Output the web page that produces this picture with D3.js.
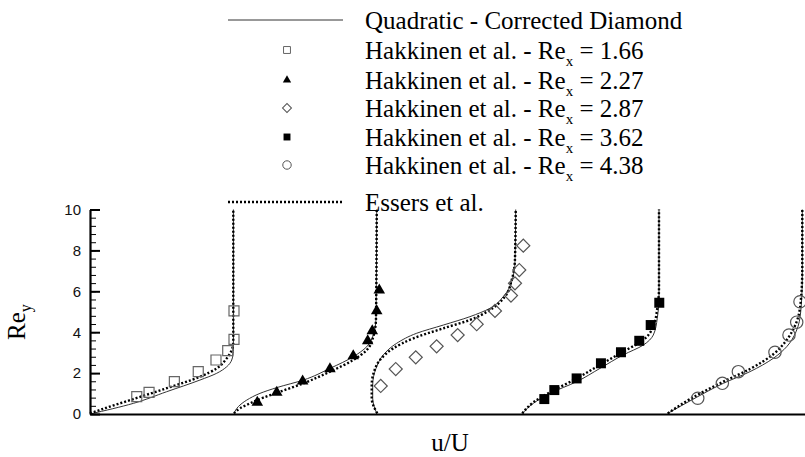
<!DOCTYPE html>
<html lang="en">
<head>
<meta charset="utf-8" />
<title>Velocity profiles</title>
<script src="https://cdn.jsdelivr.net/npm/d3@7"></script>
<style>
  body { margin: 0; background: #fff; }
</style>
</head>
<body>
<svg id="chart" width="805" height="457"></svg>
<script>
// Re_x of each station, and the u/U offset used to stack the profiles
const stations = ["1.66", "2.27", "2.87", "3.62", "4.38"];
const offsets = [0, 1, 2, 3, 4];
const yTicks = [0, 2, 4, 6, 8, 10];

// Quadratic - Corrected Diamond (solid), [u/U, Re_y]
const quad166 = [[0, 0], [0.303, 0.52], [0.536, 1.09], [0.769, 1.66], [0.886, 1.99], [0.956, 2.31], [0.991, 2.64], [1.002, 3.05], [1.003, 3.6], [1.003, 10]];
const quad227 = [[0.007, 0.03], [0.037, 0.36], [0.096, 0.68], [0.189, 1.01], [0.306, 1.29], [0.492, 1.66], [0.678, 2.23], [0.841, 2.8], [0.935, 3.29], [0.981, 3.86], [1.0, 4.68], [1.005, 10]];
const quad287 = [[0.005, 0.03], [-0.023, 0.77], [-0.023, 1.42], [0, 2.23], [0.051, 2.89], [0.145, 3.46], [0.285, 3.95], [0.471, 4.35], [0.657, 4.76], [0.797, 5.17], [0.89, 5.74], [0.949, 6.47], [0.972, 7.45], [0.977, 10]];
const quad362 = [[0.023, 0.03], [0.1, 0.52], [0.217, 1.01], [0.403, 1.58], [0.566, 2.23], [0.729, 2.89], [0.869, 3.37], [0.939, 3.86], [0.967, 4.68], [0.979, 5.82], [0.979, 10]];
const quad438 = [[0.04, 0.03], [0.196, 0.64], [0.429, 1.5], [0.615, 2.07], [0.778, 2.72], [0.872, 3.29], [0.937, 4.02], [0.97, 5.0], [0.981, 6.64], [0.981, 10]];

// Essers et al. (dotted)
const ess166 = [[0, 0.03], [0.07, 0.2], [0.303, 0.73], [0.536, 1.26], [0.769, 1.82], [0.886, 2.23], [0.956, 2.72], [0.991, 3.13], [1.002, 3.54], [1.002, 10]];
const ess227 = [[0.007, 0.03], [0.049, 0.28], [0.119, 0.52], [0.212, 0.8], [0.329, 1.09], [0.492, 1.5], [0.678, 2.07], [0.841, 2.64], [0.935, 3.13], [0.981, 3.78], [1.0, 4.68], [1.005, 10]];
const ess287 = [[0.009, 0.03], [-0.03, 0.77], [-0.03, 1.42], [-0.014, 2.07], [0.028, 2.64], [0.121, 3.21], [0.261, 3.7], [0.471, 4.19], [0.657, 4.6], [0.797, 5.09], [0.902, 5.74], [0.949, 6.55], [0.972, 7.61], [0.977, 10]];
const ess362 = [[0.023, 0.03], [0.1, 0.57], [0.217, 1.06], [0.403, 1.74], [0.566, 2.4], [0.729, 3.05], [0.869, 3.62], [0.939, 4.27], [0.967, 5.17], [0.979, 6.15], [0.979, 10]];
const ess438 = [[0.04, 0.03], [0.196, 0.73], [0.429, 1.58], [0.615, 2.2], [0.778, 2.92], [0.872, 3.62], [0.937, 4.43], [0.97, 5.49], [0.981, 7.12], [0.981, 10]];

// Hakkinen et al. measurements
const hak166 = [[0.327, 0.85], [0.413, 1.06], [0.59, 1.58], [0.757, 2.07], [0.881, 2.64], [0.963, 3.1], [1.007, 3.65], [1.007, 5.04]];
const hak227 = [[0.17, 0.57], [0.306, 1.06], [0.487, 1.61], [0.678, 2.2], [0.841, 2.84], [0.942, 3.57], [0.974, 4.06], [1.005, 5.04], [1.023, 6.06]];
const hak287 = [[0.033, 1.37], [0.138, 2.2], [0.278, 2.77], [0.424, 3.31], [0.571, 3.86], [0.704, 4.39], [0.832, 5.04], [0.944, 5.79], [0.972, 6.39], [1.002, 7.04], [1.03, 8.23]];
const hak362 = [[0.177, 0.73], [0.247, 1.17], [0.403, 1.74], [0.573, 2.48], [0.713, 3.02], [0.841, 3.58], [0.921, 4.35], [0.981, 5.44]];
const hak438 = [[0.25, 0.77], [0.422, 1.5], [0.534, 2.07], [0.79, 3.02], [0.888, 3.86], [0.942, 4.49], [0.965, 5.49]];

const quadCurves = [quad166, quad227, quad287, quad362, quad438];
const essCurves = [ess166, ess227, ess287, ess362, ess438];
const hakPoints = [hak166, hak227, hak287, hak362, hak438];

// marker style per station
const markers = [
  { type: d3.symbolSquare, size: 100, rot: 0, fill: "none", stroke: "#666", lsize: 48 },
  { type: d3.symbolTriangle, size: 58, rot: 0, fill: "#000", stroke: "none", lsize: 30 },
  { type: d3.symbolSquare, size: 85, rot: 45, fill: "none", stroke: "#555", lsize: 40 },
  { type: d3.symbolSquare, size: 100, rot: 0, fill: "#000", stroke: "none", lsize: 48 },
  { type: d3.symbolCircle, size: 120, rot: 0, fill: "none", stroke: "#555", lsize: 56 }
];

const svg = d3.select("#chart");
const serif = "'Liberation Serif', 'Times New Roman', serif";
const sans = "'Liberation Sans', Arial, sans-serif";

const x = d3.scaleLinear().domain([0, 5]).range([90, 805]);
const y = d3.scaleLinear().domain([0, 10]).range([414, 209.5]);

// curves
offsets.forEach((off, i) => {
  const line = d3.line()
    .x(d => x(off + d[0]))
    .y(d => y(d[1]))
    .curve(d3.curveMonotoneY);

  svg.append("path")
    .attr("d", line(quadCurves[i]))
    .attr("fill", "none")
    .attr("stroke", "#333")
    .attr("stroke-width", 1);

  svg.append("path")
    .attr("d", line(essCurves[i]))
    .attr("fill", "none")
    .attr("stroke", "#000")
    .attr("stroke-width", 2.4)
    .attr("stroke-dasharray", "2,2");

  const m = markers[i];
  svg.append("g").selectAll("path")
    .data(hakPoints[i])
    .enter()
    .append("path")
    .attr("d", d3.symbol().type(m.type).size(m.size))
    .attr("transform", d => `translate(${x(off + d[0])},${y(d[1])}) rotate(${m.rot})`)
    .attr("fill", m.fill)
    .attr("stroke", m.stroke)
    .attr("stroke-width", 1.2);
});

// Y axis, ticks point inward
const yAxis = svg.append("g")
  .attr("transform", `translate(${x(0)},0)`)
  .call(d3.axisLeft(y).tickValues(yTicks).tickSize(-10).tickSizeOuter(0).tickPadding(9));
yAxis.select(".domain").attr("stroke-width", 2.2);
yAxis.selectAll(".tick line").attr("stroke-width", 2);
yAxis.selectAll("text")
  .attr("font-family", sans)
  .attr("font-size", "15px")
  .attr("fill", "#111");

// minor ticks
svg.append("g")
  .attr("transform", `translate(${x(0)},0)`)
  .call(d3.axisLeft(y).tickValues(d3.range(0, 10.01, 0.4)).tickSize(-6).tickFormat(""))
  .call(g => g.select(".domain").remove())
  .selectAll(".tick line").attr("stroke-width", 1);

// X axis, line only
svg.append("g")
  .attr("transform", `translate(0,${y(0)})`)
  .call(d3.axisBottom(x).tickValues([]).tickSizeOuter(0))
  .select(".domain").attr("stroke-width", 2.2);

// axis titles
svg.append("text")
  .attr("x", 450)
  .attr("y", 451)
  .attr("text-anchor", "middle")
  .attr("font-family", serif)
  .attr("font-size", "25px")
  .text("u/U");

const ylab = svg.append("text")
  .attr("transform", "translate(25,340) rotate(-90)")
  .attr("font-family", serif)
  .attr("font-size", "25px");
ylab.append("tspan").text("Re");
ylab.append("tspan").attr("font-size", "16px").attr("dy", 6).text("y");

// legend
const rowY = [20, 50, 80, 108, 137, 165, 202];
const lg = svg.append("g");

lg.append("line")
  .attr("x1", 228).attr("x2", 343)
  .attr("y1", rowY[0]).attr("y2", rowY[0])
  .attr("stroke", "#333").attr("stroke-width", 1);
lg.append("text")
  .attr("x", 365).attr("y", rowY[0] + 8.7)
  .attr("font-family", serif).attr("font-size", "25px")
  .text("Quadratic - Corrected Diamond");

stations.forEach((s, i) => {
  const m = markers[i];
  const ry = rowY[i + 1];
  lg.append("path")
    .attr("d", d3.symbol().type(m.type).size(m.lsize))
    .attr("transform", `translate(287,${ry}) rotate(${m.rot})`)
    .attr("fill", m.fill)
    .attr("stroke", m.stroke)
    .attr("stroke-width", 1);
  const t = lg.append("text")
    .attr("x", 365).attr("y", ry + 8.7)
    .attr("font-family", serif).attr("font-size", "25px");
  t.append("tspan").text("Hakkinen et al. - Re");
  t.append("tspan").attr("font-size", "15px").attr("dy", 7).text("x");
  t.append("tspan").attr("dy", -7).text(" = " + s);
});

lg.append("line")
  .attr("x1", 228).attr("x2", 343)
  .attr("y1", rowY[6]).attr("y2", rowY[6])
  .attr("stroke", "#000").attr("stroke-width", 2.4)
  .attr("stroke-dasharray", "2,2");
lg.append("text")
  .attr("x", 365).attr("y", rowY[6] + 8.7)
  .attr("font-family", serif).attr("font-size", "25px")
  .text("Essers et al.");
</script>
</body>
</html>
